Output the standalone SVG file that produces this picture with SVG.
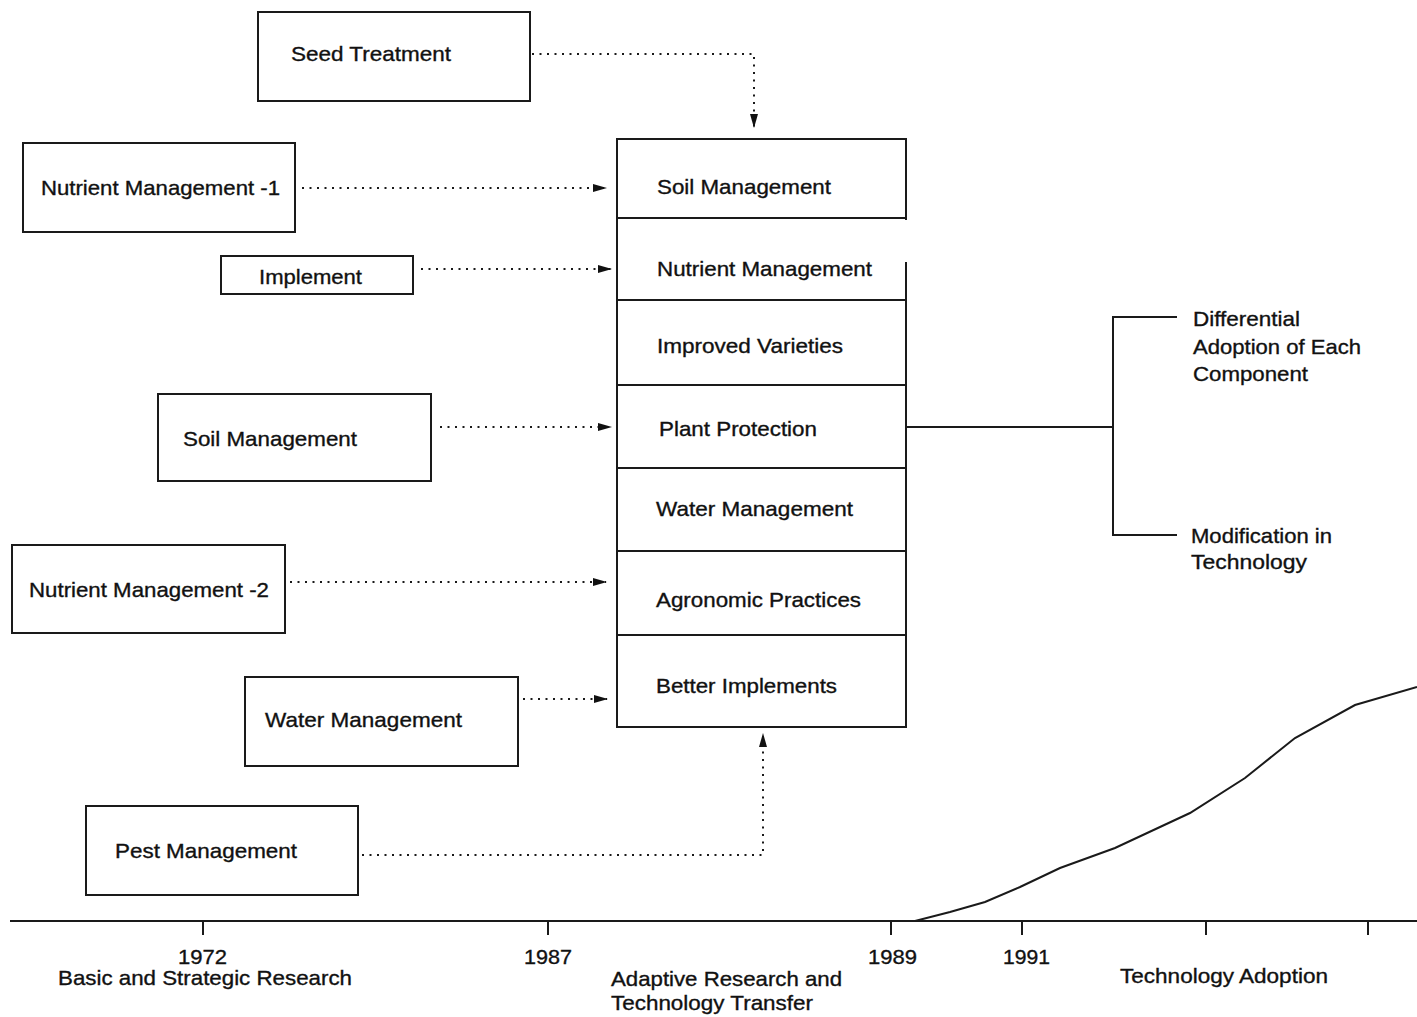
<svg xmlns="http://www.w3.org/2000/svg" width="1417" height="1017" viewBox="0 0 1417 1017">
<style>
.box{fill:#fff;stroke:#1a1a1a;stroke-width:2}
.t{font-family:"Liberation Sans",Arial,sans-serif;font-size:21px;fill:#111;stroke:#111;stroke-width:0.35}
.dot{fill:none;stroke:#1a1a1a;stroke-width:2;stroke-dasharray:2 5.5}
.sol{fill:none;stroke:#1a1a1a;stroke-width:2}
</style>
<defs>
<marker id="ah" markerWidth="14" markerHeight="9" refX="13" refY="4.5" orient="auto" markerUnits="userSpaceOnUse">
<path d="M0,0.5 L14,4.5 L0,8.5 Z" fill="#111"/>
</marker>
</defs>
<rect width="1417" height="1017" fill="#fff"/>

<g id="seed-treatment"><rect class="box" x="258" y="12" width="272" height="89"/><text class="t" x="291" y="61" textLength="160" lengthAdjust="spacingAndGlyphs">Seed Treatment</text></g>
<g id="nutrient-management-1"><rect class="box" x="23" y="143" width="272" height="89"/><text class="t" x="41" y="195" textLength="239" lengthAdjust="spacingAndGlyphs">Nutrient Management -1</text></g>
<g id="implement"><rect class="box" x="221" y="256" width="192" height="38"/><text class="t" x="259" y="284" textLength="103" lengthAdjust="spacingAndGlyphs">Implement</text></g>
<g id="soil-management-left"><rect class="box" x="158" y="394" width="273" height="87"/><text class="t" x="183" y="446" textLength="174" lengthAdjust="spacingAndGlyphs">Soil Management</text></g>
<g id="nutrient-management-2"><rect class="box" x="12" y="545" width="273" height="88"/><text class="t" x="29" y="597" textLength="240" lengthAdjust="spacingAndGlyphs">Nutrient Management -2</text></g>
<g id="water-management-left"><rect class="box" x="245" y="677" width="273" height="89"/><text class="t" x="265" y="727" textLength="197" lengthAdjust="spacingAndGlyphs">Water Management</text></g>
<g id="pest-management"><rect class="box" x="86" y="806" width="272" height="89"/><text class="t" x="115" y="858" textLength="182" lengthAdjust="spacingAndGlyphs">Pest Management</text></g>

<g id="components">
<rect class="box" x="617" y="139" width="289" height="588"/>
<rect x="902" y="220" width="8" height="42" fill="#fff"/>
<line class="sol" x1="617" y1="218" x2="906" y2="218"/>
<line class="sol" x1="617" y1="300" x2="906" y2="300"/>
<line class="sol" x1="617" y1="385" x2="906" y2="385"/>
<line class="sol" x1="617" y1="468" x2="906" y2="468"/>
<line class="sol" x1="617" y1="551" x2="906" y2="551"/>
<line class="sol" x1="617" y1="635" x2="906" y2="635"/>
<text class="t" x="657" y="194" textLength="174" lengthAdjust="spacingAndGlyphs">Soil Management</text>
<text class="t" x="657" y="276" textLength="215" lengthAdjust="spacingAndGlyphs">Nutrient Management</text>
<text class="t" x="657" y="353" textLength="186" lengthAdjust="spacingAndGlyphs">Improved Varieties</text>
<text class="t" x="659" y="436" textLength="158" lengthAdjust="spacingAndGlyphs">Plant Protection</text>
<text class="t" x="656" y="516" textLength="197" lengthAdjust="spacingAndGlyphs">Water Management</text>
<text class="t" x="656" y="607" textLength="205" lengthAdjust="spacingAndGlyphs">Agronomic Practices</text>
<text class="t" x="656" y="693" textLength="181" lengthAdjust="spacingAndGlyphs">Better Implements</text>
</g>

<g id="outcomes">
<text class="t" x="1193" y="326" textLength="107" lengthAdjust="spacingAndGlyphs">Differential</text>
<text class="t" x="1193" y="354" textLength="168" lengthAdjust="spacingAndGlyphs">Adoption of Each</text>
<text class="t" x="1193" y="381" textLength="115" lengthAdjust="spacingAndGlyphs">Component</text>
<text class="t" x="1191" y="543" textLength="141" lengthAdjust="spacingAndGlyphs">Modification in</text>
<text class="t" x="1191" y="569" textLength="116" lengthAdjust="spacingAndGlyphs">Technology</text>
</g>

<g id="connectors">
<polyline class="dot" points="532,54 754,54 754,127" marker-end="url(#ah)"/>
<line class="dot" x1="302" y1="188" x2="606" y2="188" marker-end="url(#ah)"/>
<line class="dot" x1="421" y1="269" x2="611" y2="269" marker-end="url(#ah)"/>
<line class="dot" x1="440" y1="427" x2="611" y2="427" marker-end="url(#ah)"/>
<line class="dot" x1="290" y1="582" x2="606" y2="582" marker-end="url(#ah)"/>
<line class="dot" x1="523" y1="699" x2="607" y2="699" marker-end="url(#ah)"/>
<polyline class="dot" points="362,855 763,855 763,734" marker-end="url(#ah)"/>
<polyline class="sol" points="906,427 1113,427"/>
<polyline class="sol" points="1177,317 1113,317 1113,535 1177,535"/>
</g>

<g id="timeline">
<line class="sol" x1="10" y1="921" x2="1417" y2="921"/>
<line class="sol" x1="203" y1="921" x2="203" y2="935"/>
<line class="sol" x1="548" y1="921" x2="548" y2="935"/>
<line class="sol" x1="891" y1="921" x2="891" y2="935"/>
<line class="sol" x1="1022" y1="921" x2="1022" y2="935"/>
<line class="sol" x1="1206" y1="921" x2="1206" y2="935"/>
<line class="sol" x1="1368" y1="921" x2="1368" y2="935"/>
<polyline class="sol" stroke-width="2.5" points="890,921 915,921 950,912 985,902 1020,887 1060,868 1115,848 1190,813 1245,778 1295,738 1355,705 1417,687"/>
<text class="t" x="178" y="964" textLength="49" lengthAdjust="spacingAndGlyphs">1972</text>
<text class="t" x="58" y="985" textLength="294" lengthAdjust="spacingAndGlyphs">Basic and Strategic Research</text>
<text class="t" x="524" y="964" textLength="48" lengthAdjust="spacingAndGlyphs">1987</text>
<text class="t" x="611" y="986" textLength="231" lengthAdjust="spacingAndGlyphs">Adaptive Research and</text>
<text class="t" x="611" y="1010" textLength="202" lengthAdjust="spacingAndGlyphs">Technology Transfer</text>
<text class="t" x="868" y="964" textLength="49" lengthAdjust="spacingAndGlyphs">1989</text>
<text class="t" x="1003" y="964" textLength="47" lengthAdjust="spacingAndGlyphs">1991</text>
<text class="t" x="1120" y="983" textLength="208" lengthAdjust="spacingAndGlyphs">Technology Adoption</text>
</g>
</svg>
